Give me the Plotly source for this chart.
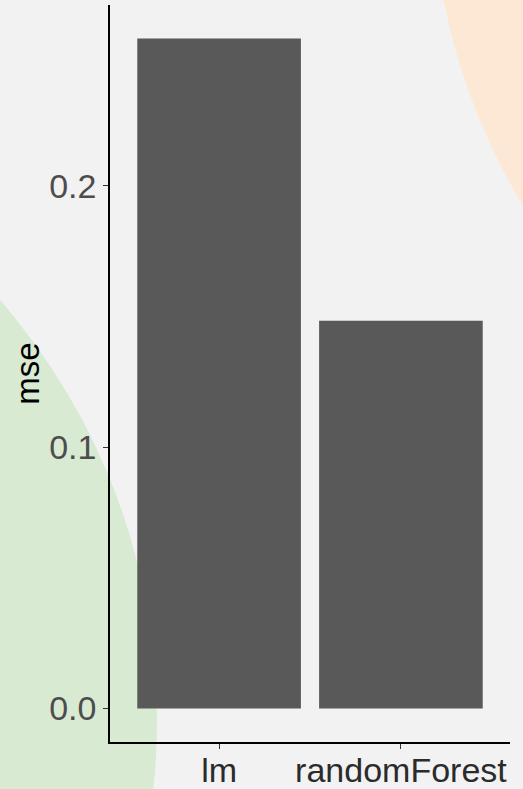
import plotly.graph_objects as go

MODELS = ["lm", "randomForest"]
MSE = [0.2563, 0.1483]
Y_TICKS = [0.0, 0.1, 0.2]

BG = "#f2f2f2"
BAR = "#595959"

# plot area in pixels (523x789 page)
L, R, T, B = 110, 13, 5, 47
W, H = 523, 789
PW, PH = W - L - R, H - T - B


def px_to_paper(x, y):
    return (x - L) / PW, (H - B - y) / PH


def circle(cx, cy, r, color):
    x0, y1 = px_to_paper(cx - r, cy - r)
    x1, y0 = px_to_paper(cx + r, cy + r)
    return dict(type="circle", xref="paper", yref="paper", x0=x0, x1=x1, y0=y0, y1=y1,
                fillcolor=color, line_width=0, layer="below")


fig = go.Figure(go.Bar(x=MODELS, y=MSE, marker=dict(color=BAR, line_width=0), width=0.9))

ymax = max(MSE)
fig.update_yaxes(
    range=[-0.05 * ymax, 1.05 * ymax],
    tickvals=Y_TICKS,
    tickformat=".1f",
    showline=True, linecolor="black", linewidth=1.5,
    ticks="outside", ticklen=5, tickwidth=1.1, tickcolor="#333333",
    tickfont=dict(size=34, color="#4d4d4d"),
    showgrid=False, zeroline=False, automargin=False,
    title=dict(text="mse", font=dict(size=33, color="black"), standoff=0),
)
fig.update_xaxes(
    range=[-0.6, 1.6],
    showline=True, linecolor="black", linewidth=1.5,
    ticks="outside", ticklen=5, tickwidth=1.1, tickcolor="#333333",
    tickfont=dict(size=34, color="#2b2b2b"),
    ticklabelstandoff=-8,
    showgrid=False, zeroline=False, automargin=False,
)

fig.update_layout(
    width=W, height=H,
    margin=dict(l=L, r=R, t=T, b=B),
    paper_bgcolor=BG, plot_bgcolor="rgba(0,0,0,0)",
    font=dict(family="Liberation Sans, Arial, sans-serif"),
    showlegend=False,
    shapes=[
        circle(-483, 720, 640, "#d9ead3"),
        circle(1060, -120, 628, "#fde8d6"),
    ],
)

fig.write_html("out.html", config={"displayModeBar": False},
               post_script="document.body.style.margin='0';")
